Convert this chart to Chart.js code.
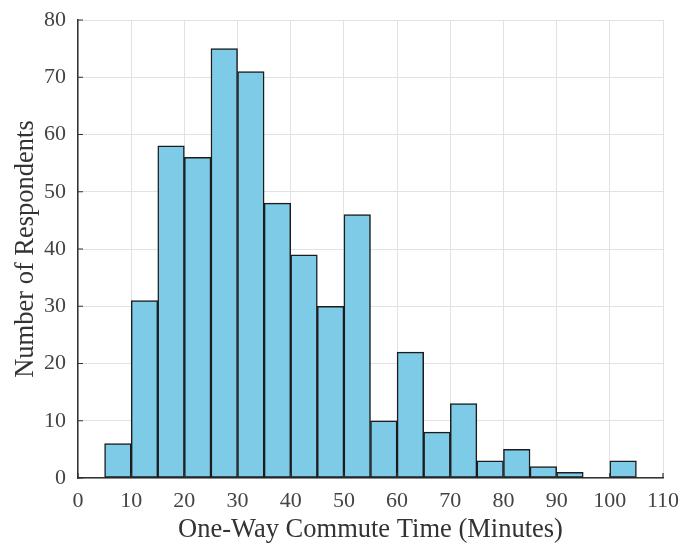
<!DOCTYPE html>
<html>
<head>
<meta charset="utf-8">
<script src="https://cdn.jsdelivr.net/npm/chart.js@4/dist/chart.umd.min.js"></script>
<style>
  html, body { margin: 0; padding: 0; background: #fff; }
  #wrap { width: 683px; height: 547px; }
</style>
</head>
<body>
<div id="wrap"><canvas id="c" width="683" height="547"></canvas></div>
<script>
// Commute-time histogram: 5-minute bins from 0 to 110 minutes
const binStarts = [0, 5, 10, 15, 20, 25, 30, 35, 40, 45, 50, 55, 60, 65, 70, 75, 80, 85, 90, 95, 100, 105];
const binWidth = 5;
const respondents = [0, 6, 31, 58, 56, 75, 71, 48, 39, 30, 46, 10, 22, 8, 13, 3, 5, 2, 1, 0, 3, 0];
const xTicks = [0, 10, 20, 30, 40, 50, 60, 70, 80, 90, 100, 110];
const yTicks = [0, 10, 20, 30, 40, 50, 60, 70, 80];

const points = binStarts.map((s, i) => ({ x: s + binWidth / 2, y: respondents[i] }));

const FONT = "'Liberation Serif', 'Times New Roman', serif";

// Short inward tick marks on both axes
const inwardTicks = {
  id: 'inwardTicks',
  afterDraw(chart) {
    const { ctx, chartArea, scales } = chart;
    ctx.save();
    ctx.strokeStyle = '#333';
    ctx.lineWidth = 1.2;
    ctx.beginPath();
    yTicks.forEach(v => {
      const y = scales.y.getPixelForValue(v);
      ctx.moveTo(chartArea.left, y);
      ctx.lineTo(chartArea.left + 5, y);
    });
    xTicks.forEach(v => {
      const x = scales.x.getPixelForValue(v);
      ctx.moveTo(x, chartArea.bottom);
      ctx.lineTo(x, chartArea.bottom - 5);
    });
    ctx.stroke();
    ctx.restore();
  }
};

// Edge tick labels may overhang the plot; the outer padding already leaves room
function noEdgePadding(scale) {
  scale.paddingTop = 0;
  scale.paddingBottom = 0;
  scale.paddingLeft = 0;
  scale.paddingRight = 0;
}

new Chart(document.getElementById('c'), {
  type: 'bar',
  data: {
    datasets: [{
      data: points,
      backgroundColor: '#7ecbe8',
      borderColor: '#1c1c1c',
      borderWidth: 1.5,
      borderSkipped: false,
      barPercentage: 1,
      categoryPercentage: 1
    }]
  },
  options: {
    responsive: false,
    animation: false,
    layout: { padding: { top: 20, right: 20, left: 10, bottom: 0 } },
    plugins: { legend: { display: false }, tooltip: { enabled: false } },
    scales: {
      x: {
        type: 'linear',
        offset: false,
        min: 0,
        max: 110,
        afterBuildTicks(scale) { scale.ticks = xTicks.map(v => ({ value: v })); },
        afterFit(scale) { scale.height = 69; noEdgePadding(scale); },
        grid: { color: '#e2e2e2', lineWidth: 1, drawTicks: false, offset: false },
        border: { display: true, color: '#333', width: 1.5 },
        ticks: { color: '#444', font: { family: FONT, size: 22 }, padding: 10, maxRotation: 0 },
        title: {
          display: true,
          text: 'One-Way Commute Time (Minutes)',
          color: '#333',
          font: { family: FONT, size: 26.5 },
          padding: { top: 0, bottom: 1 }
        }
      },
      y: {
        min: 0,
        max: 80,
        afterBuildTicks(scale) { scale.ticks = yTicks.map(v => ({ value: v })); },
        afterFit(scale) { scale.width = 68; noEdgePadding(scale); },
        grid: { color: '#e2e2e2', lineWidth: 1, drawTicks: false },
        border: { display: true, color: '#333', width: 1.5 },
        ticks: { color: '#444', font: { family: FONT, size: 22 }, padding: 12 },
        title: {
          display: true,
          text: 'Number of Respondents',
          color: '#333',
          font: { family: FONT, size: 26.5 },
          padding: { top: 0, bottom: 0 }
        }
      }
    }
  },
  plugins: [inwardTicks]
});
</script>
</body>
</html>
